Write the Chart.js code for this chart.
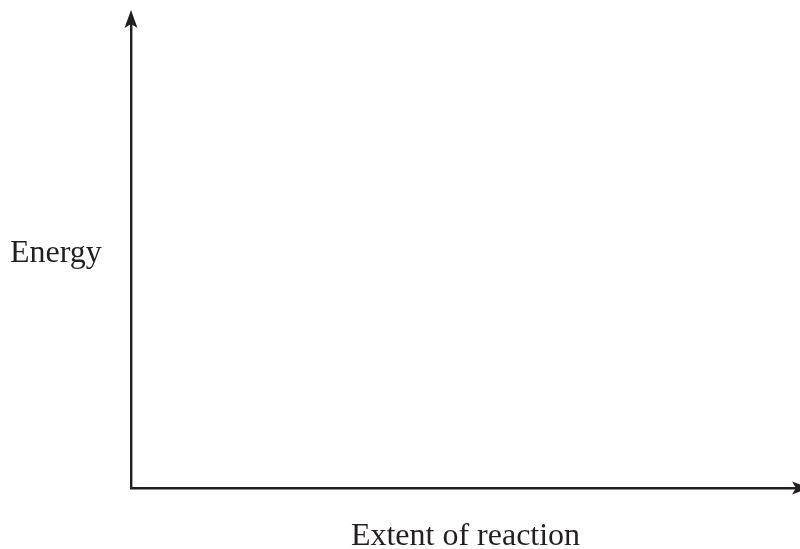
<!DOCTYPE html>
<html>
<head>
<meta charset="utf-8">
<script src="https://cdn.jsdelivr.net/npm/chart.js@4/dist/chart.umd.min.js"></script>
<style>
    html, body {
        margin: 0;
        padding: 0;
        background: #ffffff;
    }

    #wrap {
        width: 800px;
        height: 549px;
    }
</style>
</head>
<body>
<div id="wrap">
    <canvas id="chartEnergy"></canvas>
</div>
<script>
const xTitle = "Extent of reaction";
const yTitle = "Energy";
const xRange = [0, 1];
const yRange = [0, 1];
const energyPoints = [];

const inkColor = "#231f20";
const serifFont = "'Liberation Serif', 'Times New Roman', serif";
const axisWidth = 2.4;

// arrow heads at the open ends of both axes, plus the horizontal y label
const axisArrows = {
    id: "axisArrows",

    afterDraw(chart) {

        const ctx = chart.ctx;
        const area = chart.chartArea;
        const xScale = chart.scales.x;
        const yScale = chart.scales.y;

        const ax = xScale.getPixelForValue(xRange[0]);
        const ay = yScale.getPixelForValue(yRange[0]);
        const topY = yScale.getPixelForValue(yRange[1]);
        const rightX = xScale.getPixelForValue(xRange[1]);

        ctx.save();
        ctx.fillStyle = inkColor;
        ctx.strokeStyle = inkColor;
        ctx.lineWidth = axisWidth;

        // extend y line up into its head
        ctx.beginPath();
        ctx.moveTo(ax, topY);
        ctx.lineTo(ax, topY - 6);
        ctx.stroke();

        // y head, pointing up
        const tipY = topY - 12;
        ctx.beginPath();
        ctx.moveTo(ax, tipY);
        ctx.lineTo(ax - 6.5, tipY + 18);
        ctx.lineTo(ax, tipY + 14);
        ctx.lineTo(ax + 6.5, tipY + 18);
        ctx.closePath();
        ctx.fill();

        // x head, pointing right
        const tipX = rightX + 10;
        ctx.beginPath();
        ctx.moveTo(tipX, ay);
        ctx.lineTo(tipX - 18, ay - 6.5);
        ctx.lineTo(tipX - 14, ay);
        ctx.lineTo(tipX - 18, ay + 6.5);
        ctx.closePath();
        ctx.fill();

        // y title stays horizontal
        ctx.font = "32px " + serifFont;
        ctx.textAlign = "left";
        ctx.textBaseline = "alphabetic";
        ctx.fillText(yTitle, area.left - 121, (area.top + area.bottom) / 2 + 7);

        ctx.restore();
    }
};

new Chart(

    document.getElementById("chartEnergy"),

    {
        type: "scatter",

        data: {
            datasets: [{
                label: yTitle,
                data: energyPoints
            }]
        },

        options: {

            responsive: true,
            maintainAspectRatio: false,
            animation: false,

            layout: {
                padding: {
                    left: 131,
                    top: 22,
                    right: 0,
                    bottom: 0
                }
            },

            plugins: {
                legend: { display: false },
                tooltip: { enabled: false }
            },

            scales: {

                x: {
                    type: "linear",
                    min: xRange[0],
                    max: xRange[1],
                    grid: { display: false },
                    ticks: { display: false },
                    border: {
                        display: true,
                        color: inkColor,
                        width: axisWidth
                    },
                    title: {
                        display: true,
                        text: xTitle,
                        color: inkColor,
                        font: {
                            family: serifFont,
                            size: 32,
                            lineHeight: 0.8
                        },
                        padding: { top: 0, bottom: 0 }
                    },
                    afterFit: s => { s.height = 61; }
                },

                y: {
                    type: "linear",
                    min: yRange[0],
                    max: yRange[1],
                    grid: { display: false },
                    ticks: { display: false },
                    border: {
                        display: true,
                        color: inkColor,
                        width: axisWidth
                    },
                    afterFit: s => { s.width = 0; }
                }
            }
        },

        plugins: [axisArrows]
    }
);
</script>
</body>
</html>
